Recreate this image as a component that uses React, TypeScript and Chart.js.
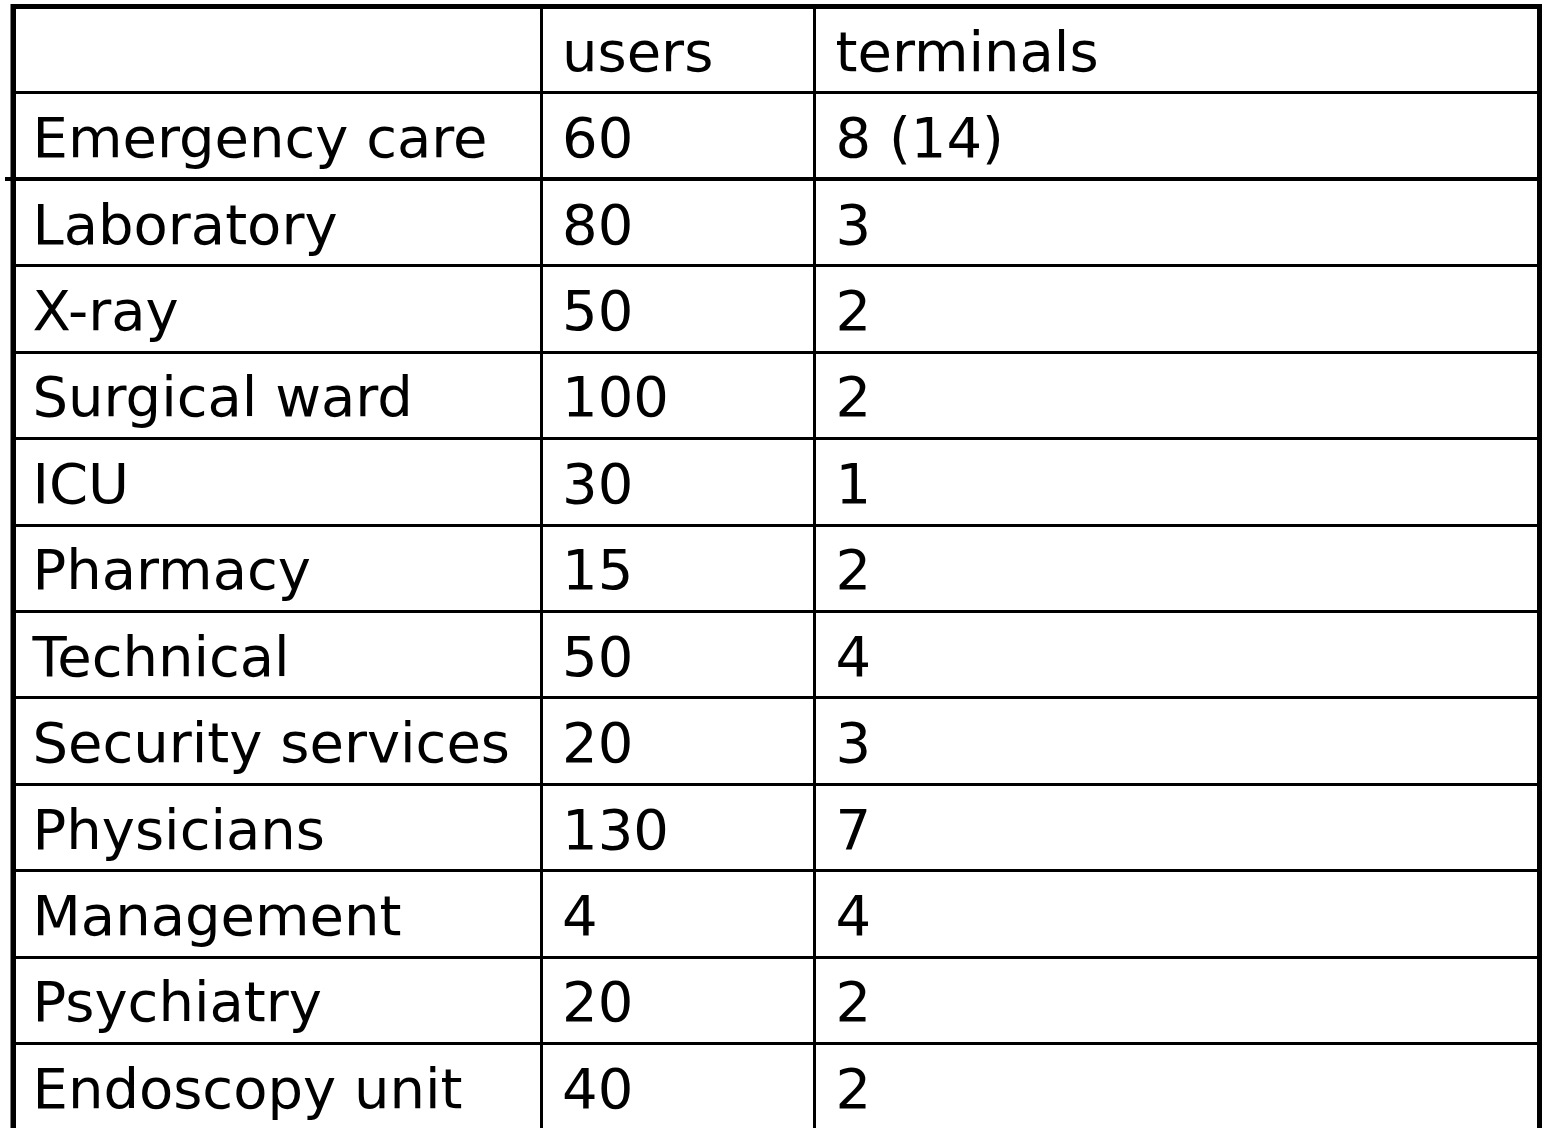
import { useEffect, useRef } from "react";
import { Chart, registerables } from "chart.js";

Chart.register(...registerables);

// ---- data ----
const headers = ["", "users", "terminals"];
const departments = [
  "Emergency care",
  "Laboratory",
  "X-ray",
  "Surgical ward",
  "ICU",
  "Pharmacy",
  "Technical",
  "Security services",
  "Physicians",
  "Management",
  "Psychiatry",
  "Endoscopy unit",
];
const users = [60, 80, 50, 100, 30, 15, 50, 20, 130, 4, 20, 40];
const terminals = [8, 3, 2, 2, 1, 2, 4, 3, 7, 4, 2, 2];
const terminalsAlt: (number | null)[] = [14, null, null, null, null, null, null, null, null, null, null, null];

// ---- layout (not data) ----
const COL_EDGES = [0, 528.5, 801, 1526.5];
const ROWS = departments.length + 1;
const FONT = '56px "DejaVu Sans"';
const TEXT_PAD = [19.5, 20.5, 21.5];
const BASELINE = 21;

const outerBorderPlugin = {
  id: "outerBorder",
  afterDraw(chart: any) {
    const x = chart.scales.x;
    const y = chart.scales.y;
    const ctx = chart.ctx;
    const top = y.getPixelForValue(0);
    const bottom = y.getPixelForValue(ROWS);
    ctx.save();
    ctx.strokeStyle = "#000";
    ctx.lineWidth = 5;
    [COL_EDGES[0], COL_EDGES[COL_EDGES.length - 1]].forEach((v) => {
      const px = x.getPixelForValue(v);
      ctx.beginPath();
      ctx.moveTo(px, top - 2.5);
      ctx.lineTo(px, bottom + 2.5);
      ctx.stroke();
    });
    ctx.restore();
  },
};

const cellTextPlugin = {
  id: "cellText",
  afterDatasetsDraw(chart: any) {
    const ctx = chart.ctx;
    ctx.save();
    ctx.font = FONT;
    ctx.fillStyle = "#000";
    ctx.textAlign = "left";
    ctx.textBaseline = "alphabetic";
    chart.data.datasets.forEach((ds: any, di: number) => {
      const meta = chart.getDatasetMeta(di);
      meta.data.forEach((el: any, j: number) => {
        const raw = ds.data[j];
        if (!raw.text) return;
        ctx.fillText(raw.text, el.x + TEXT_PAD[raw.col], el.y + BASELINE);
      });
    });
    ctx.restore();
  },
};

export default function App() {
  const ref = useRef<HTMLCanvasElement>(null);
  useEffect(() => {
    if (!ref.current) return;
    const hidden = { pointRadius: 0, pointHoverRadius: 0, showLine: false };
    const chart = new Chart(ref.current, {
      type: "scatter",
      data: {
        datasets: [
          {
            label: "header",
            data: headers.map((h, c) => ({ x: COL_EDGES[c], y: 0.5, text: h, col: c })),
            ...hidden,
          },
          {
            label: "department",
            data: departments.map((d, i) => ({ x: COL_EDGES[0], y: i + 1.5, text: d, col: 0 })),
            ...hidden,
          },
          {
            label: "users",
            data: users.map((v, i) => ({ x: COL_EDGES[1], y: i + 1.5, text: String(v), col: 1 })),
            ...hidden,
          },
          {
            label: "terminals",
            data: terminals.map((v, i) => ({
              x: COL_EDGES[2],
              y: i + 1.5,
              text: terminalsAlt[i] != null ? `${v} (${terminalsAlt[i]})` : String(v),
              col: 2,
            })),
            ...hidden,
          },
        ] as any,
      },
      options: {
        animation: false,
        responsive: false,
        events: [],
        layout: { padding: { left: 5, top: 6.5, right: 6.5, bottom: 10 } },
        plugins: { legend: { display: false }, tooltip: { enabled: false } },
        scales: {
          x: {
            type: "linear",
            min: COL_EDGES[0],
            max: COL_EDGES[COL_EDGES.length - 1],
            ticks: { display: false },
            border: { display: false },
            grid: {
              color: "#000",
              drawTicks: false,
              lineWidth: (c: any) =>
                c.tick && (c.tick.value === COL_EDGES[0] || c.tick.value === COL_EDGES[COL_EDGES.length - 1]) ? 5 : 3,
            },
            afterBuildTicks: (s: any) => {
              s.ticks = COL_EDGES.map((value) => ({ value }));
            },
          },
          y: {
            type: "linear",
            min: 0,
            max: ROWS,
            reverse: true,
            ticks: { display: false },
            border: { display: false },
            grid: {
              color: "#000",
              drawTicks: true,
              tickLength: 8,
              tickColor: (c: any) => (c.tick && c.tick.value === 2 ? "#000" : "rgba(0,0,0,0)"),
              lineWidth: (c: any) => {
                const v = c.tick ? c.tick.value : -1;
                if (v === 0) return 5;
                if (v === 2) return 4;
                return 3;
              },
            },
            afterBuildTicks: (s: any) => {
              s.ticks = Array.from({ length: ROWS + 1 }, (_, i) => ({ value: i }));
            },
          },
        },
      },
      plugins: [cellTextPlugin, outerBorderPlugin],
    } as any);
    return () => chart.destroy();
  }, []);
  return (
    <div
      style={{
        position: "fixed",
        left: 0,
        top: 0,
        width: 1546,
        height: 1128,
        overflow: "hidden",
        background: "#fff",
      }}
    >
      <canvas ref={ref} width={1546} height={1140} style={{ display: "block" }} />
    </div>
  );
}
